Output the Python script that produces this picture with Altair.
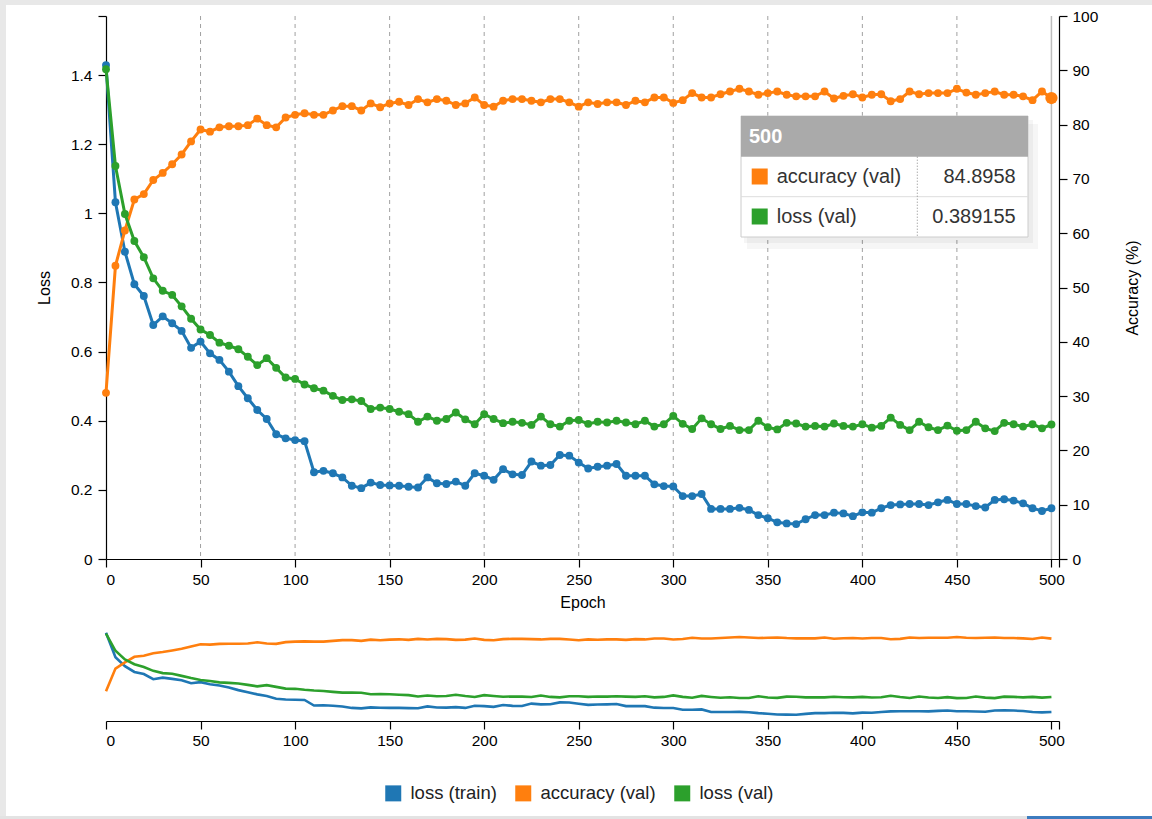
import altair as alt
import pandas as pd

# ---- training history (one record every 5 epochs) ----
epochs = list(range(0, 501, 5))

loss_train = [
    1.429, 1.032, 0.889, 0.795, 0.761, 0.677, 0.702, 0.682, 0.660, 0.611,
    0.629, 0.595, 0.576, 0.542, 0.500, 0.465, 0.431, 0.405, 0.361, 0.349,
    0.344, 0.341, 0.251, 0.255, 0.248, 0.236, 0.212, 0.205, 0.221, 0.214,
    0.213, 0.212, 0.209, 0.207, 0.236, 0.219, 0.217, 0.224, 0.212, 0.248,
    0.241, 0.229, 0.260, 0.245, 0.243, 0.282, 0.270, 0.272, 0.301, 0.299,
    0.279, 0.262, 0.267, 0.270, 0.275, 0.241, 0.241, 0.241, 0.216, 0.211,
    0.210, 0.182, 0.182, 0.188, 0.145, 0.145, 0.145, 0.148, 0.142, 0.127,
    0.118, 0.106, 0.103, 0.101, 0.115, 0.127, 0.127, 0.134, 0.132, 0.124,
    0.135, 0.134, 0.147, 0.156, 0.158, 0.159, 0.159, 0.156, 0.164, 0.171,
    0.159, 0.159, 0.153, 0.149, 0.171, 0.173, 0.169, 0.161, 0.147, 0.139,
    0.147,
]

loss_val = [
    1.417, 1.137, 0.998, 0.920, 0.873, 0.812, 0.776, 0.764, 0.731, 0.695,
    0.664, 0.648, 0.626, 0.617, 0.607, 0.585, 0.561, 0.581, 0.553, 0.525,
    0.521, 0.505, 0.494, 0.487, 0.472, 0.460, 0.462, 0.457, 0.434, 0.438,
    0.434, 0.426, 0.419, 0.397, 0.412, 0.400, 0.405, 0.424, 0.404, 0.390,
    0.419, 0.405, 0.393, 0.397, 0.394, 0.388, 0.412, 0.390, 0.383, 0.400,
    0.402, 0.391, 0.397, 0.395, 0.400, 0.395, 0.390, 0.400, 0.383, 0.390,
    0.414, 0.391, 0.376, 0.407, 0.390, 0.376, 0.385, 0.373, 0.373, 0.400,
    0.381, 0.375, 0.394, 0.392, 0.383, 0.385, 0.383, 0.392, 0.385, 0.383,
    0.390, 0.380, 0.385, 0.409, 0.388, 0.373, 0.397, 0.381, 0.373, 0.386,
    0.371, 0.373, 0.397, 0.378, 0.370, 0.394, 0.390, 0.383, 0.390, 0.378,
    0.389155,
]

accuracy_val = [
    30.6, 54.0, 60.5, 66.2, 67.2, 69.8, 71.1, 72.7, 74.5, 76.9,
    79.1, 78.7, 79.5, 79.7, 79.7, 79.9, 81.1, 79.9, 79.5, 81.3,
    81.8, 82.1, 81.8, 81.8, 82.6, 83.4, 83.4, 82.6, 83.9, 83.2,
    83.9, 84.2, 83.6, 84.7, 84.1, 84.7, 84.4, 83.6, 83.9, 85.0,
    83.6, 83.3, 84.4, 84.7, 84.7, 84.4, 84.1, 84.7, 84.7, 84.1,
    83.3, 84.1, 83.8, 84.1, 84.1, 83.6, 84.4, 84.1, 85.0, 85.0,
    84.0, 84.5, 85.8, 85.0, 85.0, 85.6, 86.1, 86.6, 86.1, 85.5,
    85.8, 86.1, 85.5, 85.2, 85.2, 85.2, 86.1, 84.8, 85.3, 85.6,
    85.0, 85.5, 85.6, 84.3, 84.7, 86.1, 85.6, 85.8, 85.8, 85.8,
    86.6, 85.9, 85.5, 85.8, 86.1, 85.5, 85.5, 85.2, 84.5, 86.1,
    84.8958,
]

series_names = ["loss (train)", "accuracy (val)", "loss (val)"]
series_colors = ["#1f77b4", "#ff7f0e", "#2ca02c"]

x_ticks = [0, 50, 100, 150, 200, 250, 300, 350, 400, 450, 500]
grid_epochs = [50, 100, 150, 200, 250, 300, 350, 400, 450]
loss_ticks = [0, 0.2, 0.4, 0.6, 0.8, 1.0, 1.2, 1.4]
acc_ticks = [0, 10, 20, 30, 40, 50, 60, 70, 80, 90, 100]
hover_epoch = 500

X_MAX = 504
LOSS_MAX = 1.571
FONT = "Liberation Sans"

train_df = pd.DataFrame({"epoch": epochs, "value": loss_train, "series": series_names[0]})
acc_df = pd.DataFrame({"epoch": epochs, "value": accuracy_val, "series": series_names[1]})
val_df = pd.DataFrame({"epoch": epochs, "value": loss_val, "series": series_names[2]})
hover_acc = acc_df[acc_df["epoch"] == hover_epoch]
dummy = pd.DataFrame({"k": [0]})

color_enc = alt.Color(
    "series:N",
    scale=alt.Scale(domain=series_names, range=series_colors),
    title=None,
)

# ---- main panel ----
x_main = alt.X(
    "epoch:Q",
    scale=alt.Scale(domain=[0, X_MAX], nice=False, zero=False),
    axis=alt.Axis(
        values=x_ticks + [X_MAX],
        labelExpr="datum.value > 500 ? '' : datum.label",
        title="Epoch",
        labelPadding=5,
        titlePadding=7,
    ),
)
loss_scale = alt.Scale(domain=[0, LOSS_MAX], nice=False)
y_loss = alt.Y(
    "value:Q",
    scale=loss_scale,
    axis=alt.Axis(
        orient="left",
        values=loss_ticks + [LOSS_MAX],
        labelExpr="datum.value > 1.5 ? '' : format(datum.value, '~g')",
        title="Loss",
        labelPadding=6,
        titlePadding=18,
    ),
)
y_loss_hidden = alt.Y("value:Q", scale=loss_scale, axis=None)
y_acc = alt.Y(
    "value:Q",
    scale=alt.Scale(domain=[0, 100], nice=False),
    axis=alt.Axis(
        orient="right",
        values=acc_ticks,
        title="Accuracy (%)",
        titleAngle=270,
        labelPadding=5,
        titlePadding=43,
    ),
)


def series_layers(df, y):
    base = alt.Chart(df).encode(x=x_main, y=y, color=color_enc)
    return [base.mark_line(strokeWidth=3), base.mark_circle(size=62, opacity=1)]


train_layer = alt.layer(*series_layers(train_df, y_loss))
acc_layer = alt.layer(
    *series_layers(acc_df, y_acc),
    alt.Chart(hover_acc).mark_circle(size=150, opacity=1).encode(x=x_main, y=y_acc, color=color_enc),
)
val_layer = alt.layer(*series_layers(val_df, y_loss_hidden))

grid = alt.Chart(pd.DataFrame({"epoch": grid_epochs})).mark_rule(
    color="#a0a0a0", strokeDash=[4, 4], strokeWidth=1
).encode(x=x_main)
hover_rule = alt.Chart(pd.DataFrame({"epoch": [hover_epoch]})).mark_rule(
    color="#bdbdbd", strokeWidth=1.5
).encode(x=x_main)


def box(x0, x1, y0, y1, **kw):
    return alt.Chart(dummy).mark_rect(**kw).encode(
        x=alt.value(x0), x2=alt.value(x1), y=alt.value(y0), y2=alt.value(y1)
    )


# page frame around the figure
frame = [
    box(-106, 1046, -16, -11, color="#e8e8e8"),
    box(-106, -100, -16, 800, color="#e8e8e8"),
    box(-106, 921, 800, 803, color="#e3e3e3"),
    box(921, 1046, 800, 803, color="#3d7cbf"),
]

# hover readout box for the last epoch
TX0, TX1, TY0, TY1 = 635, 922, 100, 221
HEAD = 140.7
ROW = 180.7
SEP_X = 811.3
tip_font = 20
tip = [
    box(TX0 + 6, TX1 + 10, TY0 + 8, TY1 + 12, color="#000000", opacity=0.035),
    box(TX0 + 3, TX1 + 5, TY0 + 4, TY1 + 6, color="#000000", opacity=0.04),
    box(TX0, TX1, TY0, TY1, fill="white", stroke="#cccccc", strokeWidth=1),
    box(TX0, TX1, TY0, HEAD, color="#aaaaaa"),
    alt.Chart(dummy).mark_rule(color="#dddddd", strokeWidth=1).encode(
        x=alt.value(TX0), x2=alt.value(TX1), y=alt.value(ROW)
    ),
    alt.Chart(dummy).mark_rule(color="#888888", strokeWidth=1, strokeDash=[1, 2]).encode(
        x=alt.value(SEP_X), y=alt.value(HEAD), y2=alt.value(TY1)
    ),
    alt.Chart(dummy).mark_text(
        align="left", baseline="middle", font=FONT, fontSize=tip_font, fontWeight="bold", color="white"
    ).encode(x=alt.value(643), y=alt.value(121), text=alt.value(str(hover_epoch))),
]
tip_rows = [
    (series_names[1], series_colors[1], f"{accuracy_val[-1]:g}", 160.5),
    (series_names[2], series_colors[2], f"{loss_val[-1]:g}", 200.5),
]
for name, col, val, yy in tip_rows:
    tip.append(
        alt.Chart(dummy).mark_square(size=256, color=col, opacity=1).encode(
            x=alt.value(653.7), y=alt.value(yy)
        )
    )
    tip.append(
        alt.Chart(dummy).mark_text(
            align="left", baseline="middle", font=FONT, fontSize=tip_font, color="#333333"
        ).encode(x=alt.value(670.7), y=alt.value(yy), text=alt.value(name))
    )
    tip.append(
        alt.Chart(dummy).mark_text(
            align="right", baseline="middle", font=FONT, fontSize=tip_font, color="#333333"
        ).encode(x=alt.value(909.7), y=alt.value(yy), text=alt.value(val))
    )

main = alt.layer(
    *frame, grid, hover_rule, train_layer, acc_layer, val_layer, *tip
).resolve_scale(y="independent").properties(width=953, height=543)

# ---- overview panel ----
x_ov = alt.X(
    "epoch:Q",
    scale=alt.Scale(domain=[0, X_MAX], nice=False, zero=False),
    axis=alt.Axis(
        values=x_ticks + [X_MAX],
        labelExpr="datum.value > 500 ? '' : datum.label",
        title=None,
        labelPadding=4,
    ),
)


def ov_line(df, scale):
    return alt.Chart(df).mark_line(strokeWidth=2.6).encode(
        x=x_ov, y=alt.Y("value:Q", scale=scale, axis=None), color=color_enc
    )


overview = alt.layer(
    ov_line(train_df, alt.Scale(domain=[0, LOSS_MAX], nice=False)),
    ov_line(acc_df, alt.Scale(domain=[0, 100], nice=False)),
    ov_line(val_df, alt.Scale(domain=[0, LOSS_MAX], nice=False)),
).resolve_scale(y="independent").properties(width=953, height=97)

chart = (
    alt.vconcat(main, overview, spacing=65, bounds="flush")
    .properties(padding=0, background="white")
    .configure_view(stroke=None)
    .configure_axis(
        labelFont=FONT,
        labelFontSize=15.5,
        labelColor="black",
        titleFont=FONT,
        titleFontSize=16,
        titleFontWeight="normal",
        titleColor="black",
        tickColor="black",
        domainColor="black",
        tickSize=8,
        domainWidth=1.2,
        tickWidth=1.2,
        grid=False,
    )
    .configure_legend(
        orient="none",
        legendX=278,
        legendY=768,
        direction="horizontal",
        symbolType="square",
        symbolSize=256,
        symbolStrokeWidth=0,
        symbolOpacity=1,
        labelFont=FONT,
        labelFontSize=18.5,
        labelColor="#222222",
        labelOffset=8,
        columnPadding=17,
        padding=0,
    )
)

chart.save("out.html", embed_options={"renderer": "svg", "actions": False})
